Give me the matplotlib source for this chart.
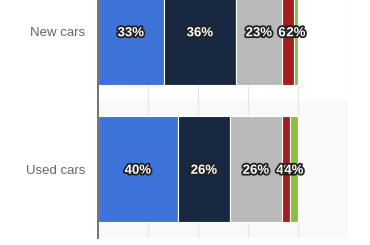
import matplotlib
matplotlib.use("Agg")
import matplotlib.pyplot as plt
import matplotlib.patheffects as pe
import numpy as np

categories = ["New cars", "Used cars"]
segments = ["Seg1", "Seg2", "Seg3", "Seg4", "Seg5"]
values = {
    "Seg1": [33, 40],
    "Seg2": [36, 26],
    "Seg3": [23, 26],
    "Seg4": [6, 4],
    "Seg5": [2, 4],
}
colors = ["#3e73d9", "#172840", "#b9b9b9", "#a41f1b", "#8cbf3f"]
xticks = [0, 25, 50, 75, 100, 125]

plt.rcParams['font.family'] = ['Liberation Sans', 'DejaVu Sans']

fig = plt.figure(figsize=(3.7, 2.45), dpi=100)
ax = fig.add_axes([98/370, 7/245, 250/370, 275/245])

y = np.arange(len(categories))
ax.axhspan(0.5, 1.5, color="#f9f9f9", zorder=0)
for xt in xticks[1:]:
    ax.axvline(xt, color="#e6e6e6", lw=0.8, zorder=1)

left = np.zeros(len(categories))
for seg, col in zip(segments, colors):
    v = np.array(values[seg], dtype=float)
    ax.barh(y, v, left=left, height=0.77, color=col, edgecolor="white",
            linewidth=0.8, zorder=2)
    for yi, (l, w) in enumerate(zip(left, v)):
        ax.text(l + w / 2, yi, f"{int(w)}%", ha="center", va="center_baseline",
                color="white", fontsize=9.5, fontweight="bold", zorder=4,
                path_effects=[pe.withStroke(linewidth=2.6, foreground="#222222")])
    left += v

ax.set_xlim(0, 125)
ax.set_ylim(1.5, -0.5)
ax.set_xticks(xticks)
ax.set_xticklabels([])
ax.set_yticks(y)
ax.set_yticklabels(categories, color="#666666", fontsize=9.5, va="center_baseline")
ax.tick_params(axis="both", length=0)
ax.tick_params(axis="y", pad=9)
for s in ["top", "right", "bottom"]:
    ax.spines[s].set_visible(False)
ax.spines["left"].set_color("#666666")
ax.spines["left"].set_linewidth(1.3)
ax.spines["left"].set_zorder(5)

fig.savefig("out.png", dpi=100)
